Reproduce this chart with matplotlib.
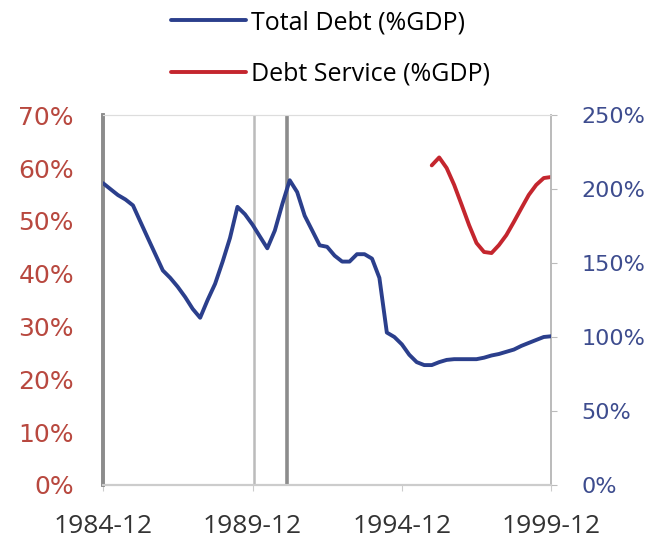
import matplotlib.pyplot as plt
import pandas as pd

plt.rcParams['font.family'] = ['Open Sans', 'DejaVu Sans']

# quarterly values
debt_dates = pd.date_range("1984-12-31", "1999-12-31", freq="QE")
total_debt = [204, 200, 196, 193, 189, 178, 167, 156, 145, 140, 134, 127, 119,
              113, 125, 136, 151, 167, 188, 183, 176, 168, 160, 172, 190, 206,
              198, 182, 172, 162, 161, 155, 151, 151, 156, 156, 153, 140, 103,
              100, 95, 88, 83, 81, 81, 83, 84.5, 85, 85, 85, 85, 86, 87.5,
              88.5, 90, 91.5, 94, 96, 98, 100, 100.5]

service_dates = pd.date_range("1995-12-31", "1999-12-31", freq="QE")
debt_service = [60.5, 62.0, 60.0, 56.8, 53.0, 49.2, 45.8, 44.1, 43.9, 45.4,
                47.3, 49.8, 52.4, 54.9, 56.8, 58.1, 58.3]

event_dates = ["1990-01-15", "1991-02-20"]
xtick_dates = ["1984-12-31", "1989-12-31", "1994-12-31", "1999-12-31"]
xtick_labels = ["1984-12", "1989-12", "1994-12", "1999-12"]
left_ticks = [0, 10, 20, 30, 40, 50, 60, 70]
right_ticks = [0, 50, 100, 150, 200, 250]

blue = "#2b3f8c"
red = "#c4262e"

fig = plt.figure(figsize=(6.61, 5.46), dpi=100)
ax = fig.add_axes([0.156, 0.112, 0.678, 0.677])
ax2 = ax.twinx()

l2, = ax.plot(service_dates, debt_service, color=red, lw=2.8, zorder=3,
              solid_joinstyle="round", solid_capstyle="round")
l1, = ax2.plot(debt_dates, total_debt, color=blue, lw=2.8, zorder=3,
               solid_joinstyle="round", solid_capstyle="round")

ax.axvline(pd.Timestamp(event_dates[0]), color="#bbbbbb", lw=1.8, zorder=1)
ax.axvline(pd.Timestamp(event_dates[1]), color="#8c8c8c", lw=2.6, zorder=1)

ax.set_xlim(pd.Timestamp("1984-12-31"), pd.Timestamp("1999-12-31"))
ax.set_ylim(0, 70)
ax2.set_ylim(0, 250)

ax.set_xticks([pd.Timestamp(d) for d in xtick_dates])
ax.set_xticklabels(xtick_labels, fontsize=19, color="#333333")
ax.set_yticks(left_ticks)
ax.set_yticklabels([f"{v}%" for v in left_ticks], fontsize=18,
                   color="#b8483f", family="DejaVu Sans")
ax2.set_yticks(right_ticks)
ax2.set_yticklabels([f"{v}%" for v in right_ticks], fontsize=16,
                    color="#3d4c8e", family="DejaVu Sans")

ax.tick_params(axis="x", length=4, color="#cccccc", pad=17)
ax.tick_params(axis="y", length=0, pad=21)
ax2.tick_params(axis="y", length=4, color="#bbbbbb", direction="out", pad=17.5)

for a in (ax, ax2):
    a.spines["top"].set_color("#dddddd")
    a.spines["bottom"].set_color("#cccccc")
    a.spines["right"].set_color("#bbbbbb")
    a.spines["left"].set_color("#8c8c8c")
    a.spines["left"].set_linewidth(2.6)
    a.spines["right"].set_linewidth(1.2)
    a.spines["bottom"].set_linewidth(1.5)

fig.legend([l1, l2], ["Total Debt (%GDP)", "Debt Service (%GDP)"],
           loc="upper left", bbox_to_anchor=(171 / 661, 1 - 10 / 546),
           frameon=False, borderpad=0, borderaxespad=0,
           fontsize=18, handlelength=3.0, handletextpad=0.2, labelspacing=1.07)

fig.savefig("out.png", dpi=100)
